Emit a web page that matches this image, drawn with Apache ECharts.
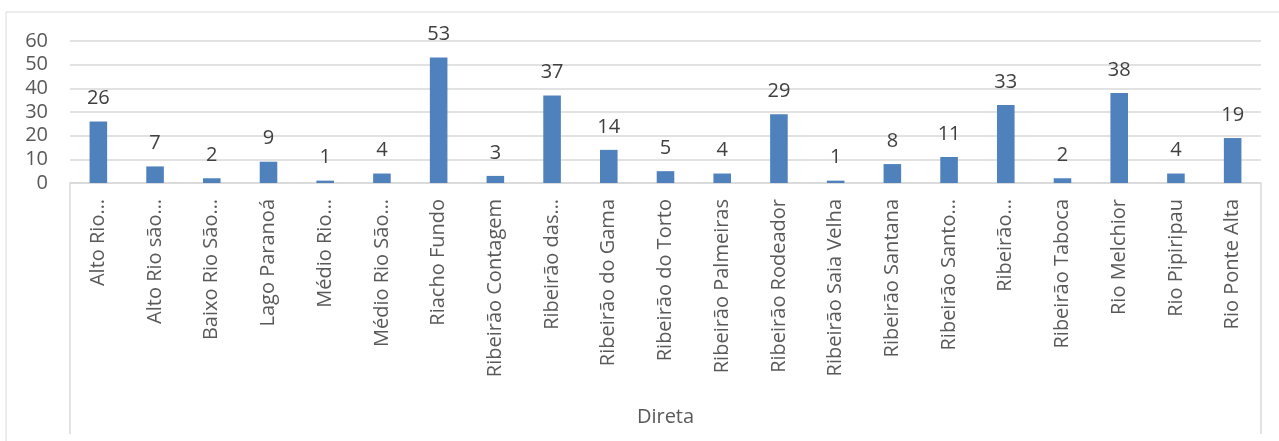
<!DOCTYPE html>
<html>
<head>
<meta charset="utf-8">
<script src="https://cdn.jsdelivr.net/npm/echarts@6/dist/echarts.min.js"></script>
<style>
html,body{margin:0;padding:0;background:#fff;}
#c{width:1279px;height:441px;}
</style>
</head>
<body>
<div id="c"></div>
<script>
const categories = ["Alto Rio…","Alto Rio são…","Baixo Rio São…","Lago Paranoá","Médio Rio…","Médio Rio São…","Riacho Fundo","Ribeirão Contagem","Ribeirão das…","Ribeirão do Gama","Ribeirão do Torto","Ribeirão Palmeiras","Ribeirão Rodeador","Ribeirão Saia Velha","Ribeirão Santana","Ribeirão Santo…","Ribeirão…","Ribeirão Taboca","Rio Melchior","Rio Pipiripau","Rio Ponte Alta"];
const values = [26,7,2,9,1,4,53,3,37,14,5,4,29,1,8,11,33,2,38,4,19];
const groupName = "Direta";
const yTicks = {min:0, max:60, interval:10};

const chart = echarts.init(document.getElementById('c'));
const font = "'Open Sans', 'Noto Sans', sans-serif";
chart.setOption({
  animation:false,
  textStyle:{fontFamily:font},
  grid:{left:70,right:18,top:41,bottom:258,containLabel:false},
  xAxis:{
    type:'category',
    data:categories,
    name:groupName,
    nameLocation:'middle',
    nameGap:224,
    nameTextStyle:{color:'#595959',fontSize:20,fontFamily:font},
    axisLine:{lineStyle:{color:'#d9d9d9',width:1.5}},
    axisTick:{show:false},
    axisLabel:{rotate:90,interval:0,margin:16,color:'#595959',fontSize:20,fontFamily:font}
  },
  yAxis:{
    type:'value',
    min:yTicks.min,max:yTicks.max,interval:yTicks.interval,
    axisLine:{show:false},
    axisTick:{show:false},
    axisLabel:{color:'#595959',fontSize:20,margin:22,fontFamily:font},
    splitLine:{lineStyle:{color:'#d9d9d9',width:1.5}}
  },
  series:[{
    type:'bar',
    data:values,
    barWidth:'31%',
    itemStyle:{color:'#4f81bd'},
    label:{show:true,position:'top',distance:13,color:'#404040',fontSize:20,fontFamily:font}
  }],
  graphic:[
    {type:'line',shape:{x1:6,y1:12,x2:1279,y2:12},style:{stroke:'#d9d9d9',lineWidth:1}},
    {type:'line',shape:{x1:6,y1:12,x2:6,y2:441},style:{stroke:'#d9d9d9',lineWidth:1}},
    {type:'line',shape:{x1:70,y1:183,x2:70,y2:434},style:{stroke:'#d9d9d9',lineWidth:1.5}},
    {type:'line',shape:{x1:1261,y1:183,x2:1261,y2:434},style:{stroke:'#d9d9d9',lineWidth:1.5}}
  ]
});
</script>
</body>
</html>
